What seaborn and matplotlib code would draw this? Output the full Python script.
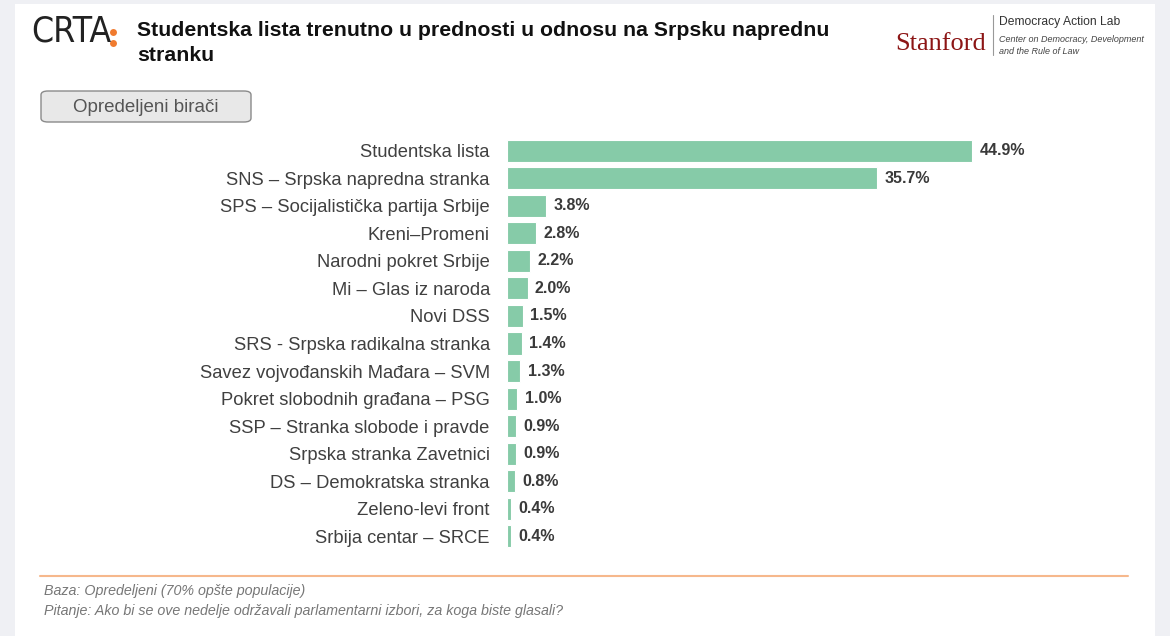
import matplotlib
matplotlib.use("Agg")
import matplotlib.pyplot as plt
from matplotlib.patches import FancyBboxPatch, Rectangle
import seaborn as sns
import pandas as pd

parties = [
    "Studentska lista",
    "SNS – Srpska napredna stranka",
    "SPS – Socijalistička partija Srbije",
    "Kreni–Promeni",
    "Narodni pokret Srbije",
    "Mi – Glas iz naroda",
    "Novi DSS",
    "SRS - Srpska radikalna stranka",
    "Savez vojvođanskih Mađara – SVM",
    "Pokret slobodnih građana – PSG",
    "SSP – Stranka slobode i pravde",
    "Srpska stranka Zavetnici",
    "DS – Demokratska stranka",
    "Zeleno-levi front",
    "Srbija centar – SRCE",
]
shares = [44.9, 35.7, 3.8, 2.8, 2.2, 2.0, 1.5, 1.4, 1.3, 1.0, 0.9, 0.9, 0.8, 0.4, 0.4]

title = "Studentska lista trenutno u prednosti u odnosu na Srpsku naprednu\nstranku"
button_text = "Opredeljeni birači"
notes = ["Baza: Opredeljeni (70% opšte populacije)",
         "Pitanje: Ako bi se ove nedelje održavali parlamentarni izbori, za koga biste glasali?"]

sns.set_theme(style="white")
plt.rcParams["font.family"] = ["Liberation Sans", "DejaVu Sans"]

W, H = 1170, 636
fig = plt.figure(figsize=(W / 100, H / 100), dpi=100)
fig.patch.set_facecolor("white")


def px(x, y):
    # pixel coords (top-left origin) -> figure fraction
    return x / W, 1 - y / H


# screenshot frame
fig.patches.append(Rectangle((0, 0), 15 / W, 1, transform=fig.transFigure,
                             facecolor="#eff0f4", edgecolor="none", zorder=0))
fig.patches.append(Rectangle((1155 / W, 0), 1, 1, transform=fig.transFigure,
                             facecolor="#eff0f4", edgecolor="none", zorder=0))
fig.patches.append(Rectangle((0, 1 - 4 / H), 1, 4 / H, transform=fig.transFigure,
                             facecolor="#eff0f4", edgecolor="none", zorder=0))

# axes: bars start at x=507, 10.36 px per percent
x0, x1 = 507, 507 + 60 * 10.36
y_top, y_bot = 137, 550
ax = fig.add_axes([x0 / W, 1 - y_bot / H, (x1 - x0) / W, (y_bot - y_top) / H])

df = pd.DataFrame({"party": parties, "share": shares})
sns.barplot(data=df, x="share", y="party", color="#86cba8", saturation=1,
            width=0.8, edgecolor="white", linewidth=0.8, ax=ax)
ax.set_xlim(0, 60)
ax.set_ylim(len(parties) - 0.5, -0.5)
ax.set_xlabel("")
ax.set_ylabel("")
ax.set_xticks([])
ax.tick_params(axis="y", length=0, pad=12.4, labelsize=13.2, labelcolor="#404040")
for s in ax.spines.values():
    s.set_visible(False)
ax.set_facecolor("none")

for i, v in enumerate(shares):
    ax.text(v + 0.7, i, f"{v:.1f}%", va="center", ha="left",
            fontsize=11.5, fontweight="bold", color="#3a3a3a")

# header
fig.text(*px(31, 31), "CRTA", fontsize=25.5, color="#222222",
         family="DejaVu Sans", fontstretch="condensed", fontweight="light",
         va="center", ha="left")
fig.add_artist(plt.Line2D([113 / W, 113 / W], [1 - 32 / H, 1 - 43 / H],
                          ls="none", marker="o", markersize=5,
                          color="#f07b2f", mec="none"))
fig.text(*px(137, 43), title, fontsize=15.3, fontweight="bold",
         color="#111111", va="center", ha="left", linespacing=1.35)

fig.text(*px(986, 44), "Stanford", fontsize=19, color="#8c1515",
         family="Liberation Serif", va="center", ha="right")
fig.add_artist(plt.Line2D([993 / W, 993 / W], [1 - 15 / H, 1 - 55 / H],
                          color="#999999", lw=0.8))
fig.text(*px(999, 22), "Democracy Action Lab", fontsize=8.7,
         color="#333333", va="center", ha="left")
fig.text(*px(999, 39), "Center on Democracy, Development", fontsize=6.5,
         color="#444444", style="italic", va="center", ha="left")
fig.text(*px(999, 51), "and the Rule of Law", fontsize=6.5,
         color="#444444", style="italic", va="center", ha="left")

# button
fig.patches.append(FancyBboxPatch((41 / W, 1 - 122 / H), 210 / W, 31 / H,
                                  boxstyle="round,pad=0,rounding_size=0.006",
                                  transform=fig.transFigure, facecolor="#e8e8e8",
                                  edgecolor="#8a8a8a", linewidth=1.0))
fig.text(*px(146, 107), button_text, fontsize=13.5, color="#555555",
         va="center", ha="center")

# footer
fig.add_artist(plt.Line2D([40 / W, 1128 / W], [1 - 576 / H, 1 - 576 / H],
                          color="#f6b88c", lw=1.5))
fig.text(*px(44, 591), notes[0], fontsize=10.3, color="#777777",
         style="italic", va="center", ha="left")
fig.text(*px(44, 611), notes[1], fontsize=10.3, color="#777777",
         style="italic", va="center", ha="left")

fig.savefig("out.png", dpi=100)
